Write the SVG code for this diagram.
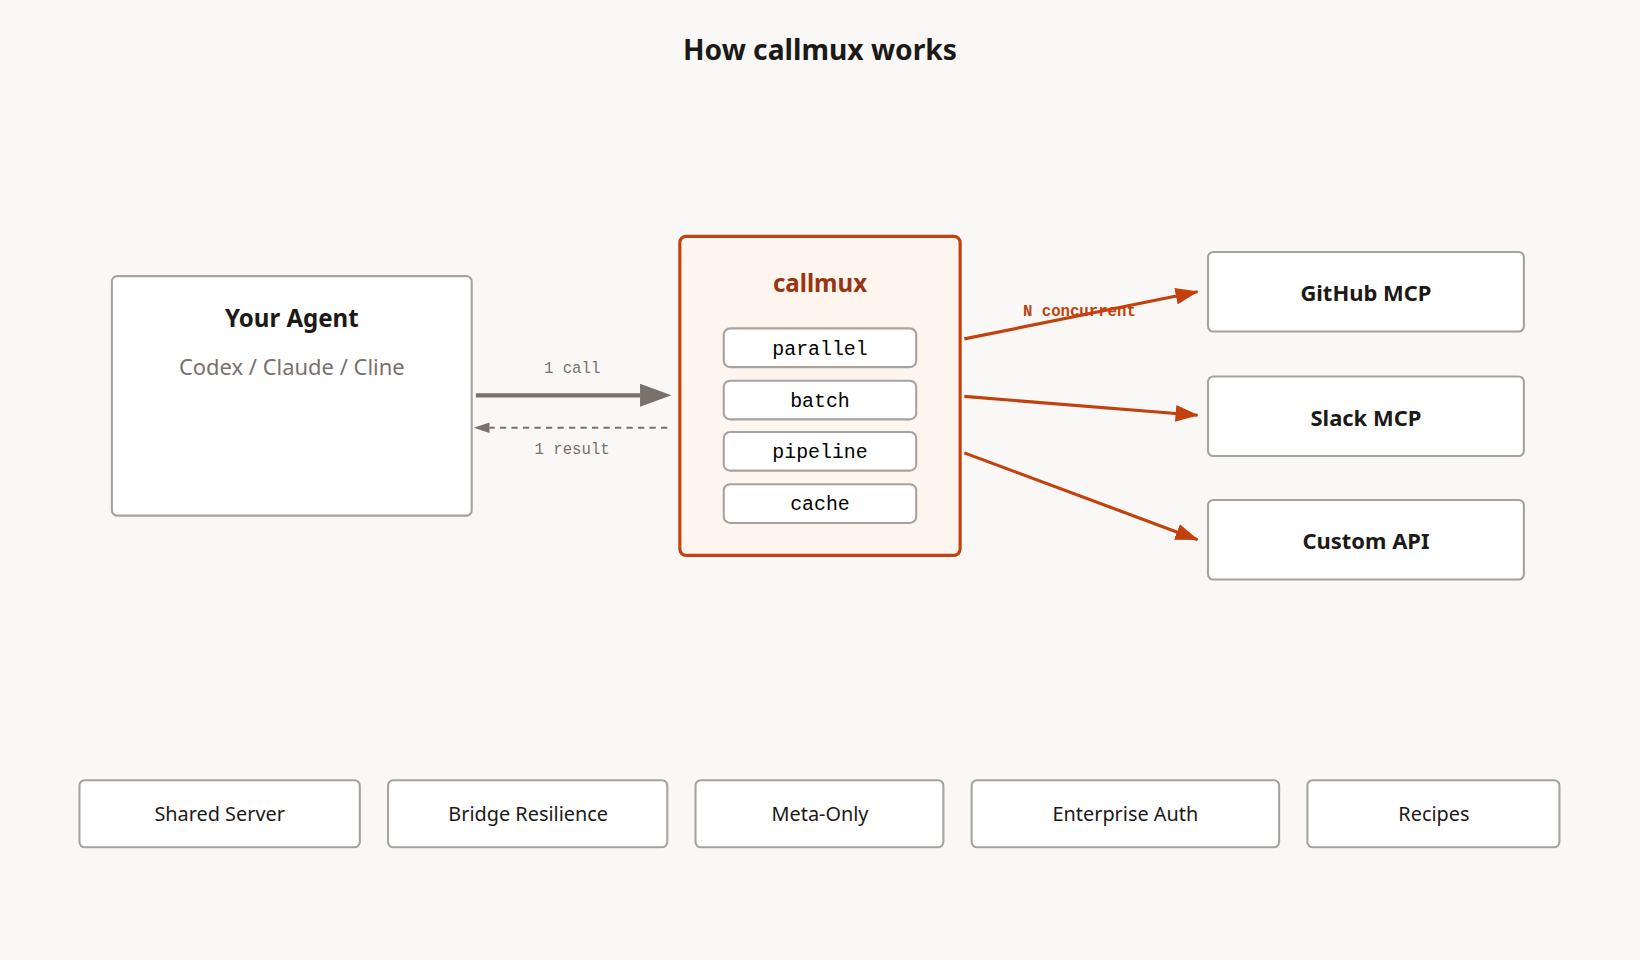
<svg xmlns="http://www.w3.org/2000/svg" width="1640" height="960" viewBox="0 0 1640 960">
<style>
.box{fill:#fff;stroke:#a8a29e;stroke-width:2}
.t{font-family:"Noto Sans",sans-serif;fill:#1c1917;text-anchor:middle}
.m{font-family:"Liberation Mono",monospace;text-anchor:middle}
.o{stroke:#c2410c;stroke-width:3;fill:none;marker-end:url(#ao)}
</style>
<defs>
<marker id="ao" markerWidth="22" markerHeight="16" refX="21" refY="8" orient="auto" markerUnits="userSpaceOnUse" viewBox="0 0 22 16"><path d="M0,0L22,8L0,16z" fill="#c2410c"/></marker>
</defs>
<rect width="1640" height="960" fill="#f9f8f6"/>
<g transform="scale(1.0459)">
<text class="t" x="784" y="57" font-size="27" font-weight="bold">How callmux works</text>
<g id="agent"><rect class="box" x="107" y="264" width="344" height="229" rx="5"/>
<text class="t" x="279" y="313" font-size="23" font-weight="bold">Your Agent</text>
<text class="t" x="279" y="359" font-size="21" style="fill:#78716c">Codex / Claude / Cline</text></g>
<g id="callmux"><rect x="650" y="226" width="268" height="305" rx="6" fill="#fef6ee" stroke="#c2410c" stroke-width="3"/>
<text class="t" x="784" y="279" font-size="23" font-weight="bold" style="fill:#9a3412">callmux</text>
<rect class="box" x="692" y="314" width="184" height="37" rx="6"/><text class="m" x="784" y="339" font-size="19">parallel</text>
<rect class="box" x="692" y="364" width="184" height="37" rx="6"/><text class="m" x="784" y="389" font-size="19">batch</text>
<rect class="box" x="692" y="413" width="184" height="37" rx="6"/><text class="m" x="784" y="438" font-size="19">pipeline</text>
<rect class="box" x="692" y="463" width="184" height="37" rx="6"/><text class="m" x="784" y="488" font-size="19">cache</text></g>
<g id="github"><rect class="box" x="1155" y="241" width="302" height="76" rx="5"/><text class="t" x="1306" y="288" font-size="21" font-weight="bold">GitHub MCP</text></g>
<g id="slack"><rect class="box" x="1155" y="360" width="302" height="76" rx="5"/><text class="t" x="1306" y="407" font-size="21" font-weight="bold">Slack MCP</text></g>
<g id="custom"><rect class="box" x="1155" y="478" width="302" height="76" rx="5"/><text class="t" x="1306" y="525" font-size="21" font-weight="bold">Custom API</text></g>
<g id="f1"><rect class="box" x="76" y="746" width="268" height="64" rx="5"/><text class="t" x="210" y="785" font-size="19">Shared Server</text></g>
<g id="f2"><rect class="box" x="371" y="746" width="267" height="64" rx="5"/><text class="t" x="505" y="785" font-size="19">Bridge Resilience</text></g>
<g id="f3"><rect class="box" x="665" y="746" width="237" height="64" rx="5"/><text class="t" x="784" y="785" font-size="19">Meta-Only</text></g>
<g id="f4"><rect class="box" x="929" y="746" width="294" height="64" rx="5"/><text class="t" x="1076" y="785" font-size="19">Enterprise Auth</text></g>
<g id="f5"><rect class="box" x="1250" y="746" width="241" height="64" rx="5"/><text class="t" x="1371" y="785" font-size="19">Recipes</text></g>
<g id="connectors">
<line x1="455" y1="378" x2="612" y2="378" stroke="#78716c" stroke-width="4"/>
<path d="M612,367L642,378L612,389z" fill="#78716c"/>
<text class="m" x="547" y="357" font-size="15" fill="#78716c">1 call</text>
<line x1="638" y1="409" x2="468" y2="409" stroke="#78716c" stroke-width="2" stroke-dasharray="6,5"/>
<path d="M468,404L453,409L468,414z" fill="#78716c"/>
<text class="m" x="547" y="434" font-size="15" fill="#78716c">1 result</text>
<line class="o" x1="922" y1="324" x2="1145" y2="279"/>
<line class="o" x1="922" y1="379" x2="1145" y2="397"/>
<line class="o" x1="922" y1="433" x2="1145" y2="516"/>
<text class="m" x="1032" y="302" font-size="15" font-weight="bold" fill="#c2410c">N concurrent</text>
</g>
</g>
</svg>
